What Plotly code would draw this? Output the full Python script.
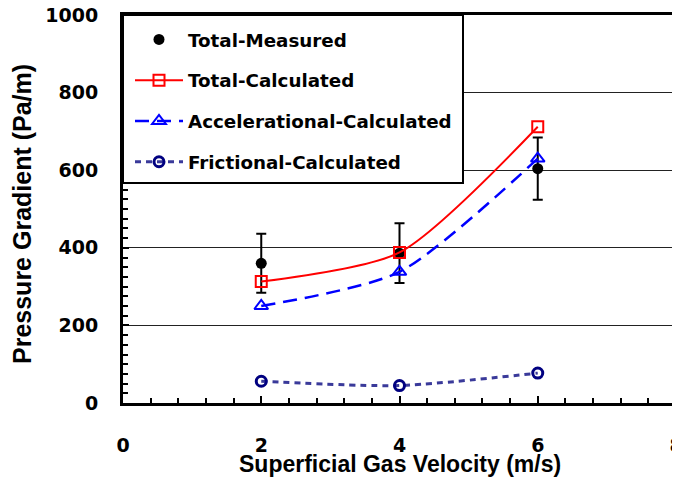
import plotly.graph_objects as go

velocity = [2, 4, 6]
total_measured = [360, 386, 604]
total_measured_err = [76, 77, 80]
total_calculated = [313, 388, 712]
accel_calculated = [250, 338, 630]
fric_calculated = [56, 45, 77]

x_ticks = [0, 2, 4, 6, 8]
y_ticks = [0, 200, 400, 600, 800, 1000]

TICK_FONT = dict(family="DejaVu Sans", size=19, color="black", weight="bold")
LEG_FONT = dict(family="DejaVu Sans", size=18.3, color="black")

fig = go.Figure()

fig.add_trace(go.Scatter(
    x=velocity, y=total_measured, mode="markers", name="<b>Total-Measured</b>",
    marker=dict(symbol="circle", size=11, color="black"),
    error_y=dict(type="data", array=total_measured_err, color="black", thickness=2, width=5),
    legendgroup="a",
))
fig.add_trace(go.Scatter(
    x=velocity, y=total_calculated, mode="lines+markers", name="<b>Total-Calculated</b>",
    line=dict(color="#FF0000", width=2, shape="spline", smoothing=0.7),
    marker=dict(symbol="square-open", size=11, color="#FF0000", line=dict(width=2)),
    legendgroup="b",
))
fig.add_trace(go.Scatter(
    x=velocity, y=accel_calculated, mode="lines+markers", name="<b>Accelerational-Calculated</b>",
    line=dict(color="#0000FF", width=2.5, shape="spline", smoothing=0.7, dash="14px,8px"),
    marker=dict(symbol="triangle-up-open", size=12, color="#0000FF", line=dict(width=2)),
    legendgroup="c",
))
fig.add_trace(go.Scatter(
    x=velocity, y=fric_calculated, mode="lines+markers", name="<b>Frictional-Calculated</b>",
    line=dict(color="#3A3A9A", width=3, shape="spline", smoothing=0.7, dash="6px,5px"),
    marker=dict(symbol="circle-open", size=10, color="#000080", line=dict(width=3)),
    legendgroup="d",
))

# legend box (white, covers gridlines)
fig.add_shape(type="rect", xref="paper", yref="paper",
              x0=0, x1=(463 - 123) / 553, y0=(403 - 183) / 388, y1=1,
              line=dict(color="black", width=2), fillcolor="white", layer="above")

fig.update_layout(
    width=680, height=479,
    margin=dict(l=115, r=12, t=7, b=84, autoexpand=False),
    paper_bgcolor="white", plot_bgcolor="white",
    showlegend=True,
    legend=dict(
        x=7 / 553, y=1 - 6 / 388, xanchor="left", yanchor="top",
        bgcolor="rgba(0,0,0,0)", borderwidth=0,
        font=LEG_FONT, tracegroupgap=14, itemwidth=48,
    ),
    xaxis=dict(
        range=[0, 8], tickvals=x_ticks, ticktext=[str(v) for v in x_ticks],
        ticks="inside", ticklen=7, tickwidth=2, tickcolor="black",
        minor=dict(dtick=0.4, tick0=0, ticks="inside", ticklen=5, tickwidth=1.5, tickcolor="black"),
        showgrid=False, zeroline=False, automargin=False,
        showline=True, linecolor="black", linewidth=3, mirror=True,
        tickfont=TICK_FONT, ticklabelstandoff=23, ticklabeloverflow="allow",
    ),
    yaxis=dict(
        range=[0, 1000], tickvals=y_ticks, ticktext=[str(v) for v in y_ticks],
        ticks="inside", ticklen=6, tickwidth=2, tickcolor="black",
        minor=dict(dtick=25, tick0=0, ticks="inside", ticklen=5, tickwidth=1.5, tickcolor="black"),
        showgrid=True, gridcolor="#222222", gridwidth=1,
        zeroline=False, automargin=False,
        showline=True, linecolor="black", linewidth=3, mirror=True,
        tickfont=TICK_FONT, ticklabelstandoff=18, ticklabeloverflow="allow",
    ),
    annotations=[
        dict(text="<b>Superficial Gas Velocity (m/s)</b>", xref="paper", yref="paper",
             x=0.5, y=0, xanchor="center", yanchor="top", yshift=-46, showarrow=False,
             font=dict(family="Liberation Sans", size=23, color="black")),
        dict(text="<b>Pressure Gradient (Pa/m)</b>", xref="paper", yref="paper",
             x=0, y=(403 - 214) / 388, xanchor="center", yanchor="middle", xshift=-101,
             textangle=-90, showarrow=False,
             font=dict(family="Liberation Sans", size=25, color="black")),
    ],
)

fig.write_html("out.html")
